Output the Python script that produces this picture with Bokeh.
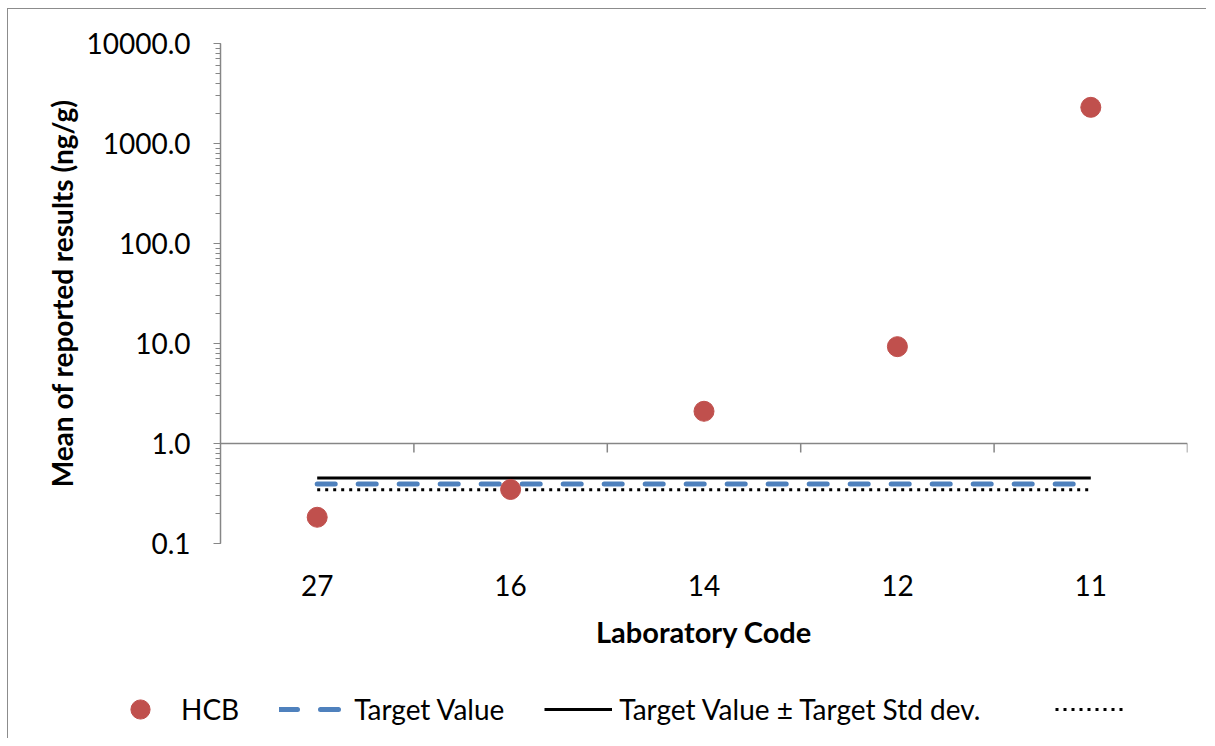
import numpy as np
from bokeh.plotting import figure
from bokeh.models import (Range1d, FixedTicker, PrintfTickFormatter, Span,
                          Legend, LegendItem)
from bokeh.embed import file_html
from bokeh.resources import INLINE

# ---- data ----
lab_codes = ["27", "16", "14", "12", "11"]
hcb_values = [0.183, 0.347, 2.1, 9.3, 2300.0]
target_value = 0.394
target_upper = 0.452
target_lower = 0.344

n = len(lab_codes)
xpos = list(range(1, n + 1))
bounds = [i + 0.5 for i in xpos]

FONT = "Lato"
AXIS_GREY = "#868686"
RED = "#C0504D"
BLUE = "#4F81BD"

p = figure(width=1199, height=650, y_axis_type="log",
           x_range=Range1d(0.5, n + 0.5), y_range=Range1d(0.1, 10000),
           output_backend="svg", toolbar_location=None,
           min_border_left=212, min_border_right=20,
           min_border_top=34, min_border_bottom=116)
p.outline_line_color = None
p.grid.visible = False
p.styles = {"margin-left": "7px", "margin-top": "8px",
            "border-left": "1px solid #8c8c8c", "border-top": "1px solid #8c8c8c"}


def draw_series(fig):
    r_up = fig.line(xpos, [target_upper] * n, line_color="black", line_width=3)
    r_tv = fig.line(xpos, [target_value] * n, line_color=BLUE, line_width=5,
                    line_dash="18 23", line_cap="round")
    r_lo = fig.line(xpos, [target_lower] * n, line_color="black", line_width=3,
                    line_dash="3 5")
    r_h = fig.scatter(xpos, hcb_values, size=20, fill_color=RED, line_color=RED)
    return r_h, r_tv, r_up, r_lo


# x axis line crossing at y = 1.0
p.add_layout(Span(location=1.0, dimension="width", line_color=AXIS_GREY, line_width=1.5))
p.ray(x=bounds, y=[1.0] * n, length=9, length_units="screen", angle=-np.pi / 2,
      line_color=AXIS_GREY, line_width=1.5)

draw_series(p)

# y axis
ya = p.yaxis[0]
ya.formatter = PrintfTickFormatter(format="%.1f")
ya.axis_line_color = AXIS_GREY
ya.axis_line_width = 1.5
ya.major_tick_line_color = AXIS_GREY
ya.minor_tick_line_color = AXIS_GREY
ya.major_tick_out = 7
ya.major_tick_in = 0
ya.minor_tick_out = 5
ya.minor_tick_in = 0
ya.major_label_text_font = FONT
ya.major_label_text_font_size = "28px"
ya.major_label_text_color = "black"
ya.major_label_standoff = 23
ya.axis_label = "Mean of reported results (ng/g)"
ya.axis_label_text_font = FONT
ya.axis_label_text_font_style = "bold"
ya.axis_label_text_font_size = "28px"
ya.axis_label_text_color = "black"
ya.axis_label_standoff = 4

# x axis (labels only)
xa = p.xaxis[0]
xa.ticker = FixedTicker(ticks=xpos)
xa.major_label_overrides = {x: lab for x, lab in zip(xpos, lab_codes)}
xa.axis_line_color = None
xa.major_tick_line_color = None
xa.minor_tick_line_color = None
xa.major_tick_out = 0
xa.major_tick_in = 0
xa.major_label_text_font = FONT
xa.major_label_text_font_size = "28px"
xa.major_label_text_color = "black"
xa.major_label_standoff = 31
xa.axis_label = "Laboratory Code"
xa.axis_label_text_font = FONT
xa.axis_label_text_font_style = "bold"
xa.axis_label_text_font_size = "29px"
xa.axis_label_text_color = "black"
xa.axis_label_standoff = 15

# ---- legend strip (series drawn out of view; only legend visible) ----
lf = figure(width=1199, height=80, x_range=Range1d(-20, -10), y_range=Range1d(0, 1),
            output_backend="svg", toolbar_location=None,
            x_axis_location=None, y_axis_location=None,
            min_border_left=0, min_border_right=0, min_border_top=0, min_border_bottom=0)
lf.outline_line_color = None
lf.grid.visible = False
lf.styles = {"margin-left": "7px", "border-left": "1px solid #8c8c8c"}
l_h, l_tv, l_up, l_lo = draw_series(lf)

common = dict(orientation="horizontal", glyph_width=68,
              label_standoff=7, spacing=40, padding=0, margin=0,
              border_line_color=None, background_fill_alpha=0,
              label_text_font=FONT, label_text_font_size="28px",
              label_text_color="black", glyph_height=48)
leg1 = Legend(items=[LegendItem(label="HCB", renderers=[l_h]),
                     LegendItem(label="Target Value", renderers=[l_tv]),
                     LegendItem(label="Target Value \u00b1 Target Std dev.", renderers=[l_up])],
              location=(98, 5), **common)
leg2 = Legend(items=[LegendItem(label=" ", renderers=[l_lo])],
              location=(1047, 5), **common)
lf.add_layout(leg1, "center")
lf.add_layout(leg2, "center")

open("out.html", "w").write(file_html([p, lf], INLINE))
